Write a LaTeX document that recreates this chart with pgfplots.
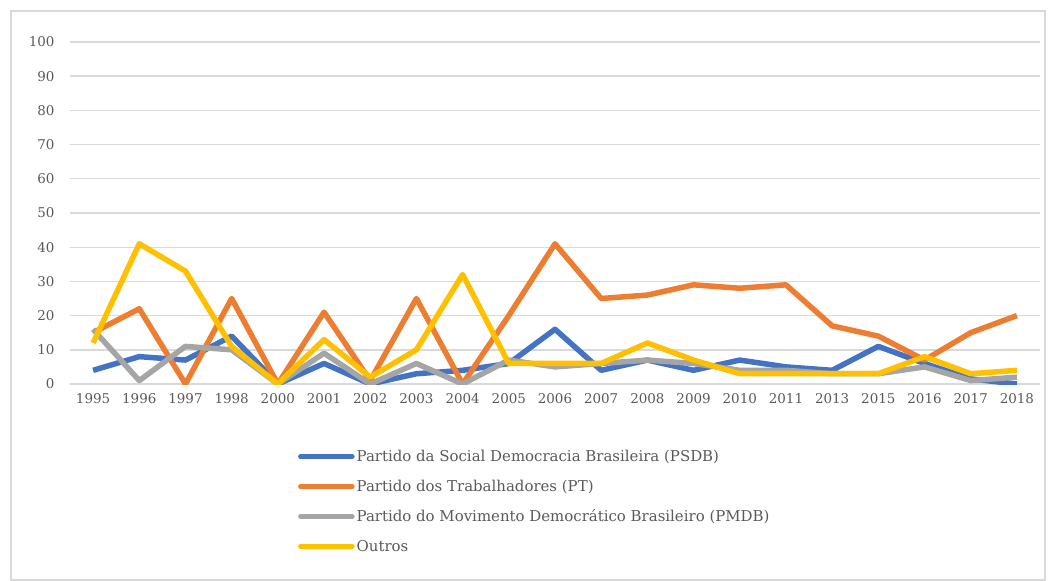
\documentclass[border=0pt]{standalone}
\usepackage{fontspec}
\setmainfont{DejaVu Serif}
\usepackage{pgfplots}
\pgfplotsset{compat=1.18}
\definecolor{psdb}{HTML}{4472C4}
\definecolor{pt}{HTML}{ED7D31}
\definecolor{pmdb}{HTML}{A5A5A5}
\definecolor{outros}{HTML}{FFC000}
\definecolor{gridgray}{HTML}{D9D9D9}
\definecolor{txtgray}{HTML}{595959}

\begin{document}
\begin{tikzpicture}
\begin{axis}[
  name=main,
  scale only axis, width=970bp, height=342bp,
  xmin=-0.5, xmax=20.5, ymin=0, ymax=100,
  xtick={0,...,20},
  xticklabels={1995,1996,1997,1998,2000,2001,2002,2003,2004,2005,2006,2007,2008,2009,2010,2011,2013,2015,2016,2017,2018},
  ytick={0,10,...,100},
  axis line style={draw=none},
  major tick length=0pt,
  ymajorgrids, grid style={gridgray, line width=1.4bp},
  tick label style={font=\fontsize{13.5}{15}\selectfont, text=txtgray},
  /pgf/number format/assume math mode=true,
  xticklabel style={yshift=-6bp},
  yticklabel style={xshift=-12bp},
  legend style={at={(0.235,-0.187)}, anchor=north west, draw=none, fill=none,
    font=\fontsize{15}{17}\selectfont, text=txtgray, row sep=13bp, inner sep=0pt},
  legend cell align=left,
  legend image code/.code={\draw[line width=4.5bp, line cap=round] (0bp,0bp) -- (52bp,0bp);},
  every axis plot/.append style={line width=5.5bp, line join=round, mark=none},
]
\addplot[psdb] coordinates {
  (0,4)(1,8)(2,7)(3,14)(4,0)(5,6)(6,0)(7,3)(8,4)(9,6)(10,16)
  (11,4)(12,7)(13,4)(14,7)(15,5)(16,4)(17,11)(18,6)(19,1.5)(20,0)
};
\addplot[pt] coordinates {
  (0,15)(1,22)(2,0)(3,25)(4,0)(5,21)(6,1)(7,25)(8,0)(9,20)(10,41)
  (11,25)(12,26)(13,29)(14,28)(15,29)(16,17)(17,14)(18,7)(19,15)(20,20)
};
\addplot[pmdb] coordinates {
  (0,16)(1,1)(2,11)(3,10)(4,0)(5,9)(6,0)(7,6)(8,0)(9,7)(10,5)
  (11,6)(12,7)(13,6)(14,4)(15,4)(16,3)(17,3)(18,5)(19,1)(20,2)
};
\addplot[outros] coordinates {
  (0,12)(1,41)(2,33)(3,11)(4,0)(5,13)(6,2)(7,10)(8,32)(9,6)(10,6)
  (11,6)(12,12)(13,7)(14,3)(15,3)(16,3)(17,3)(18,8)(19,3)(20,4)
};
\legend{Partido da Social Democracia Brasileira (PSDB),
  Partido dos Trabalhadores (PT),
  Partido do Movimento Democrático Brasileiro (PMDB),
  Outros}
\end{axis}
\draw[gridgray, line width=1.2bp]
  ([xshift=-59bp, yshift=31bp]main.north west) rectangle ([xshift=5bp, yshift=-196bp]main.south east);
\useasboundingbox ([xshift=-70bp, yshift=42bp]main.north west) rectangle ([xshift=16bp, yshift=-196.5bp]main.south east);
\end{tikzpicture}
\end{document}
